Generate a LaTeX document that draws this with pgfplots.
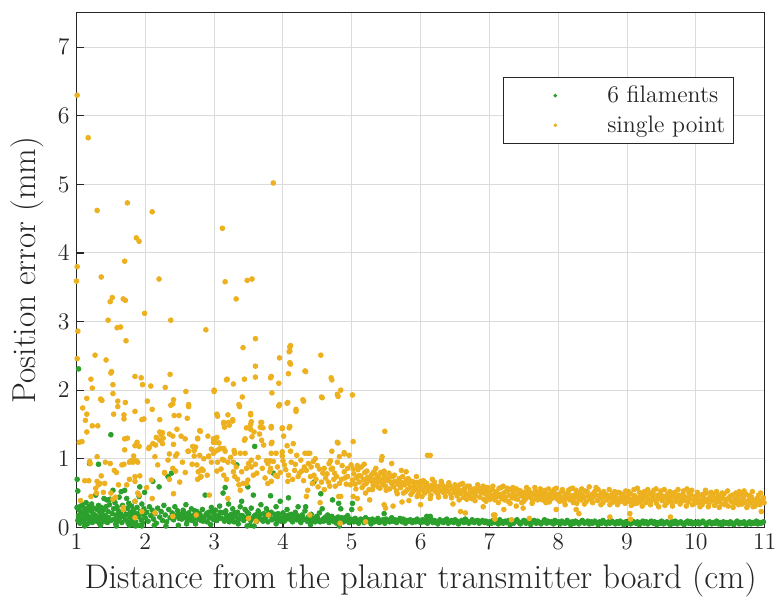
\documentclass[border=0pt]{standalone}
\usepackage{pgfplots}
\pgfplotsset{compat=1.18}
\definecolor{filgreen}{RGB}{44,160,44}
\definecolor{ptorange}{RGB}{237,177,32}
\definecolor{axgray}{RGB}{38,38,38}
\begin{document}
\begin{tikzpicture}
\begin{axis}[
  scale only axis, width=346.5pt, height=259pt,
  xmin=1, xmax=11, ymin=0, ymax=7.5,
  xtick={1,2,...,11}, ytick={0,1,...,7},
  tick align=inside, tick pos=left,
  major tick length=4pt,
  grid=major, grid style={draw=black!14, line width=0.5pt},
  axis line style={draw=axgray, line width=0.6pt},
  tick style={draw=axgray, line width=0.6pt},
  ticklabel style={font=\fontsize{13}{15}\selectfont, text=axgray},
  xlabel style={font=\fontsize{17.2}{19}\selectfont, text=axgray},
  ylabel style={font=\fontsize{16.7}{19}\selectfont, text=axgray},
  xlabel={Distance from the planar transmitter board (cm)},
  ylabel={Position error (mm)},
  legend style={at={(0.955,0.8745)}, anchor=north east, draw=axgray,
    font=\fontsize{12}{14}\selectfont, text=axgray, cells={anchor=west},
    inner sep=2pt, row sep=1pt},
  legend image code/.code={\path[draw=none] (0cm,0cm) -- (1.7cm,0cm);
    \fill[#1, draw=none] (0.85cm,0cm) circle (1.0pt);},
]
% 6 filaments
\addplot[only marks, mark=*, mark size=1.2pt, color=filgreen] coordinates {
(1.01,0.29)(1.02,0.10)(1.03,0.17)(1.04,0.25)(1.05,0.06)(1.06,0.31)(1.07,0.13)(1.08,0.21)(1.09,0.33)(1.10,0.08)
(1.11,0.19)(1.12,0.27)(1.13,0.12)(1.14,0.36)(1.15,0.23)(1.16,0.05)(1.17,0.16)(1.18,0.30)(1.19,0.10)(1.20,0.24)
(1.21,0.14)(1.22,0.34)(1.23,0.07)(1.24,0.20)(1.25,0.28)(1.26,0.11)(1.27,0.18)(1.28,0.47)(1.29,0.09)(1.30,0.26)
(1.31,0.15)(1.32,0.32)(1.33,0.06)(1.34,0.22)(1.35,0.13)(1.36,0.29)(1.37,0.19)(1.38,0.08)(1.39,0.25)(1.40,0.42)
(1.41,0.12)(1.42,0.17)(1.43,0.30)(1.44,0.40)(1.45,0.07)(1.46,0.23)(1.47,0.14)(1.48,0.33)(1.49,0.41)(1.50,0.10)
(1.03,2.31)(1.50,1.35)(1.01,0.70)(1.02,0.53)(1.19,0.93)(1.32,0.92)(1.01,0.29)(1.12,0.02)(1.35,0.03)(1.58,0.02)
(1.77,0.03)(1.95,0.02)(2.13,0.03)(2.30,0.02)(1.86,0.02)(2.48,0.03)
(1.52,0.20)(1.53,0.54)(1.54,0.27)(1.55,0.12)(1.56,0.36)(1.57,0.05)(1.58,0.18)(1.59,0.30)(1.60,0.09)(1.61,0.24)
(1.62,0.44)(1.63,0.14)(1.64,0.21)(1.65,0.52)(1.66,0.07)(1.67,0.32)(1.68,0.16)(1.69,0.26)(1.70,0.54)(1.71,0.11)
(1.72,0.19)(1.73,0.42)(1.74,0.28)(1.75,0.06)(1.76,0.35)(1.77,0.15)(1.78,0.22)(1.79,0.10)(1.80,0.31)(1.81,0.04)
(1.82,0.18)(1.83,0.25)(1.84,0.13)(1.85,0.38)(1.86,0.08)(1.87,0.20)(1.88,0.29)(1.89,0.03)(1.90,0.16)(1.91,0.45)
(1.92,0.59)(1.93,0.23)(1.94,0.11)(1.95,0.34)(1.96,0.07)(1.97,0.19)(1.98,0.27)(1.99,0.51)(2.00,0.14)(2.02,0.22)
(2.04,0.09)(2.06,0.30)(2.08,0.17)(2.10,0.25)(2.11,0.67)(2.12,0.12)(2.14,0.20)(2.16,0.06)(2.18,0.28)(2.20,0.59)
(2.21,0.15)(2.23,0.23)(2.25,0.10)(2.27,0.32)(2.29,0.18)(2.31,0.08)(2.33,0.74)(2.34,0.26)(2.36,0.14)(2.38,0.79)
(2.39,0.21)(2.41,0.11)(2.43,0.30)(2.45,0.17)(2.47,0.24)(2.49,0.13)
(2.51,0.19)(2.53,0.12)(2.55,0.25)(2.57,0.16)(2.59,0.33)(2.61,0.09)(2.63,0.21)(2.65,0.14)(2.67,0.27)(2.69,0.11)
(2.71,0.18)(2.73,0.05)(2.75,0.23)(2.77,0.15)(2.79,0.20)(2.81,0.10)(2.83,0.26)(2.85,0.13)(2.87,0.47)(2.88,0.18)
(2.90,0.08)(2.92,0.22)(2.94,0.15)(2.96,0.29)(2.98,0.12)(3.00,0.19)(3.02,0.25)(3.04,0.10)(3.06,0.17)(3.08,0.31)
(3.10,0.13)(3.12,0.21)(3.13,0.50)(3.15,0.09)(3.16,0.58)(3.17,0.24)(3.19,0.15)(3.21,0.34)(3.23,0.11)(3.25,0.19)
(3.27,0.27)(3.29,0.08)(3.31,0.16)(3.33,0.91)(3.34,0.22)(3.36,0.12)(3.38,0.30)(3.40,0.38)(3.41,0.17)(3.43,0.10)
(3.45,0.26)(3.47,0.14)(3.49,0.59)(3.50,0.20)(3.52,0.03)(3.54,0.28)(3.56,0.13)(3.57,0.47)(3.59,1.18)(3.60,0.18)
(3.62,0.09)(3.64,0.24)(3.66,0.15)(3.68,0.33)(3.70,0.11)(3.72,0.20)(3.74,0.14)(3.76,0.27)(3.78,0.08)(3.80,0.17)
(3.82,0.46)(3.83,0.22)(3.85,0.12)(3.86,0.79)(3.88,0.19)(3.90,0.30)(3.92,0.10)(3.94,0.16)(3.96,0.38)(3.98,0.13)
(4.00,0.21)(4.02,0.09)(4.04,0.17)(4.06,0.26)(4.08,0.43)(4.10,0.12)(4.12,0.19)(4.14,0.08)(4.16,0.15)(4.18,0.22)
(4.20,0.11)(4.22,0.30)(4.24,0.14)(4.26,0.07)(4.28,0.18)(4.30,0.12)(4.32,0.24)(4.33,0.30)(4.35,0.09)(4.37,0.15)
(4.39,0.11)(4.41,0.19)(4.43,0.64)(4.45,0.13)(4.47,0.08)(4.49,0.16)(4.51,0.11)(4.53,0.21)(4.55,0.49)(4.57,0.27)
(4.59,0.09)(4.61,0.14)(4.63,0.10)(4.65,0.18)(4.67,0.07)(4.69,0.12)(4.71,0.16)(4.72,0.40)(4.74,0.09)(4.76,0.13)
(4.78,0.06)(4.80,0.15)(4.81,0.35)(4.83,0.10)(4.84,0.27)(4.86,0.12)(4.88,0.08)(4.90,0.14)(4.92,0.10)(4.94,0.17)
(4.96,0.07)(4.98,0.12)(5.00,0.26)(5.01,0.35)(2.60,0.05)(2.95,0.04)(3.35,0.05)(3.48,0.02)(3.58,0.02)(3.90,0.05)
(4.40,0.04)(4.82,0.02)(4.45,0.66)
(2.52,0.15)(2.56,0.21)(2.60,0.13)(2.64,0.18)(2.68,0.10)(2.72,0.24)(2.76,0.12)(2.80,0.17)(2.84,0.09)(2.89,0.20)
(2.93,0.14)(2.97,0.23)(3.01,0.11)(3.05,0.16)(3.09,0.22)(3.14,0.12)(3.18,0.18)(3.22,0.08)(3.26,0.14)(3.30,0.21)
(3.35,0.11)(3.39,0.17)(3.44,0.13)(3.48,0.22)(3.53,0.10)(3.58,0.16)(3.63,0.12)(3.67,0.19)(3.71,0.09)(3.75,0.15)
(3.79,0.21)(3.84,0.11)(3.89,0.14)(3.93,0.20)(3.97,0.09)(4.01,0.15)(4.05,0.12)(4.09,0.18)(4.13,0.10)(4.17,0.13)
(4.21,0.17)(4.25,0.09)(4.29,0.14)(4.34,0.11)(4.38,0.16)(4.42,0.09)(4.46,0.12)(4.50,0.14)(4.54,0.08)(4.58,0.12)
(4.62,0.15)(4.66,0.10)(4.70,0.13)(4.75,0.08)(4.79,0.11)(4.85,0.14)(4.89,0.10)(4.93,0.12)(4.97,0.09)
(5.00,0.11)(5.03,0.08)(5.05,0.13)(5.08,0.09)(5.10,0.06)(5.13,0.12)(5.15,0.10)(5.18,0.07)(5.20,0.14)(5.23,0.09)
(5.25,0.11)(5.28,0.05)(5.30,0.12)(5.33,0.08)(5.35,0.10)(5.38,0.13)(5.40,0.07)(5.43,0.09)(5.45,0.11)(5.47,0.20)
(5.48,0.06)(5.50,0.12)(5.53,0.10)(5.55,0.08)(5.58,0.14)(5.60,0.09)(5.63,0.11)(5.65,0.07)(5.68,0.10)(5.70,0.13)
(5.73,0.08)(5.75,0.12)(5.78,0.06)(5.80,0.10)(5.83,0.09)(5.85,0.11)(5.88,0.07)(5.90,0.10)(5.93,0.08)(5.95,0.12)
(5.98,0.09)(6.00,0.07)(6.03,0.11)(6.05,0.08)(6.09,0.16)(6.14,0.16)(6.08,0.10)(6.10,0.06)(6.13,0.09)(6.15,0.12)
(6.18,0.07)(6.20,0.10)(6.23,0.08)(6.25,0.05)(6.28,0.11)(6.30,0.09)(6.33,0.07)(6.35,0.10)(6.38,0.12)(6.40,0.06)
(6.43,0.08)(6.45,0.10)(6.48,0.07)(6.50,0.11)(6.53,0.09)(6.55,0.05)(6.58,0.08)(6.60,0.10)(6.63,0.07)(6.65,0.12)
(6.68,0.09)(6.70,0.06)(6.73,0.08)(6.75,0.11)(6.78,0.07)(6.80,0.09)(6.83,0.10)(6.85,0.06)(6.88,0.08)(6.90,0.10)
(6.93,0.07)(6.95,0.09)(6.98,0.06)
(7.00,0.08)(7.03,0.06)(7.05,0.10)(7.08,0.07)(7.10,0.09)(7.13,0.05)(7.15,0.11)(7.18,0.08)(7.20,0.06)(7.23,0.09)
(7.25,0.07)(7.28,0.10)(7.30,0.04)(7.33,0.08)(7.35,0.06)(7.38,0.09)(7.40,0.11)(7.43,0.07)(7.45,0.05)(7.48,0.08)
(7.50,0.10)(7.53,0.06)(7.55,0.09)(7.58,0.07)(7.60,0.04)(7.63,0.08)(7.65,0.10)(7.68,0.06)(7.70,0.09)(7.73,0.07)
(7.75,0.05)(7.78,0.08)(7.80,0.11)(7.83,0.06)(7.85,0.09)(7.88,0.07)(7.90,0.08)(7.93,0.05)(7.95,0.10)(7.98,0.07)
(8.00,0.08)(8.03,0.05)(8.05,0.09)(8.08,0.07)(8.10,0.06)(8.13,0.10)(8.15,0.07)(8.18,0.04)(8.20,0.08)(8.23,0.06)
(8.25,0.09)(8.28,0.07)(8.30,0.05)(8.33,0.08)(8.35,0.10)(8.38,0.06)(8.40,0.07)(8.43,0.09)(8.45,0.05)(8.48,0.08)
(8.50,0.06)(8.53,0.09)(8.55,0.07)(8.58,0.04)(8.60,0.08)(8.63,0.06)(8.65,0.10)(8.68,0.07)(8.70,0.05)(8.73,0.08)
(8.75,0.06)(8.78,0.09)(8.80,0.07)(8.83,0.05)(8.85,0.08)(8.88,0.06)(8.90,0.09)(8.93,0.07)(8.95,0.04)(8.98,0.08)
(9.00,0.06)(9.03,0.08)(9.05,0.05)(9.08,0.09)(9.10,0.07)(9.13,0.06)(9.15,0.08)(9.18,0.04)(9.20,0.07)(9.23,0.09)
(9.25,0.06)(9.28,0.08)(9.30,0.05)(9.33,0.07)(9.35,0.09)(9.38,0.06)(9.40,0.08)(9.43,0.04)(9.45,0.07)(9.48,0.06)
(9.50,0.09)(9.53,0.05)(9.55,0.07)(9.58,0.08)(9.60,0.06)(9.63,0.04)(9.65,0.08)(9.68,0.06)(9.70,0.09)(9.73,0.05)
(9.75,0.07)(9.78,0.08)(9.80,0.06)(9.83,0.04)(9.85,0.07)(9.88,0.09)(9.90,0.06)(9.93,0.08)(9.95,0.05)(9.98,0.07)
(10.00,0.06)(10.03,0.08)(10.05,0.05)(10.08,0.07)(10.10,0.09)(10.13,0.06)(10.15,0.04)(10.18,0.07)(10.20,0.08)(10.23,0.05)
(10.25,0.07)(10.28,0.06)(10.30,0.09)(10.33,0.05)(10.35,0.07)(10.38,0.04)(10.40,0.08)(10.43,0.06)(10.45,0.07)(10.48,0.05)
(10.50,0.08)(10.53,0.06)(10.55,0.04)(10.58,0.07)(10.60,0.09)(10.63,0.05)(10.65,0.07)(10.68,0.06)(10.70,0.08)(10.73,0.04)
(10.75,0.06)(10.78,0.08)(10.80,0.05)(10.83,0.07)(10.85,0.06)(10.88,0.09)(10.90,0.05)(10.93,0.07)(10.95,0.06)(10.98,0.08)
};
\addlegendentry{6 filaments}
% single point
\addplot[only marks, mark=*, mark size=1.2pt, color=ptorange] coordinates {
(1.01,6.30)(1.17,5.68)(3.86,5.02)(1.30,4.62)(1.74,4.73)(2.10,4.60)(3.12,4.36)(1.87,4.22)(1.91,4.17)(1.70,3.88)
(1.01,3.80)(1.00,3.59)(1.36,3.65)(2.20,3.62)(3.16,3.58)(3.48,3.60)(3.55,3.62)(3.32,3.33)(1.52,3.35)(1.49,3.29)
(1.68,3.33)(1.71,3.31)(1.99,3.12)(1.46,3.02)(2.37,3.02)(1.02,2.86)(2.88,2.88)(1.59,2.91)(1.64,2.92)(1.72,2.72)
(3.60,2.75)(3.42,2.62)(1.01,2.46)(1.27,2.51)(1.43,2.44)(1.21,2.16)(1.23,2.03)(1.15,1.88)(1.09,1.74)(1.15,1.65)
(1.13,1.56)(1.04,1.24)(1.08,1.25)(1.15,1.39)(1.19,0.96)(1.23,1.48)(1.31,1.48)(1.35,1.87)(1.37,1.85)(1.50,2.25)
(1.51,2.27)(1.53,2.08)(1.53,1.95)(1.54,1.65)(1.60,1.84)(1.60,1.76)(1.69,1.64)(1.69,1.58)(1.71,1.82)(1.70,1.29)
(1.74,1.30)(1.70,1.13)(1.85,2.20)(1.94,2.18)(1.96,2.08)(1.85,1.69)(1.95,1.57)(1.98,1.58)(1.88,1.24)(1.85,1.19)
(1.83,1.04)(1.79,0.97)(1.83,0.97)(1.87,0.97)(1.91,1.18)(2.03,1.84)(2.08,2.06)(2.10,1.72)(2.16,1.31)(2.15,1.20)
(2.06,1.17)(2.21,1.39)(2.25,1.38)(2.26,1.30)(2.21,1.57)(2.29,2.04)(2.36,2.23)(2.37,1.78)(2.40,1.80)(2.41,1.86)
(2.42,1.63)(2.49,1.63)(2.46,1.43)(2.35,1.36)(2.40,1.33)(2.41,1.21)(2.44,1.04)(2.35,1.07)(2.28,0.80)(2.52,1.33)
(2.58,1.29)(2.61,1.59)(2.63,1.79)(2.59,1.98)(2.71,1.12)(2.73,1.17)(2.76,1.29)(2.79,1.41)(2.82,0.85)(2.80,0.73)
(2.92,1.04)(2.99,1.29)(3.00,2.00)(3.02,1.24)(3.04,1.65)(3.06,1.13)(3.09,1.15)(3.12,0.99)(3.14,1.53)(3.19,2.16)
(3.21,1.53)(3.28,2.09)(3.27,1.57)(3.29,1.12)(3.36,1.79)(3.44,2.16)(3.45,1.29)(3.47,1.45)(3.53,1.66)(3.54,1.54)
(3.60,2.35)(3.60,2.19)(3.55,1.32)(3.58,1.39)(3.69,1.53)(3.71,1.45)(3.72,1.20)(3.81,0.97)(3.83,2.20)(3.84,1.96)
(3.83,1.47)(3.84,1.24)(3.94,2.10)(3.95,2.47)(3.99,1.45)(3.95,1.79)(4.01,1.33)(4.07,1.82)(4.08,2.24)(4.10,2.57)
(4.11,2.65)(4.10,2.40)(4.10,1.47)(4.06,1.19)(4.19,1.72)(4.29,1.86)(4.32,2.28)(4.36,1.08)(4.55,2.51)(4.56,1.90)
(4.70,2.18)(4.79,1.94)(4.84,2.00)(4.79,1.24)(4.89,1.09)(5.01,1.93)(5.02,1.25)
(1.20,0.93)(1.30,1.03)(1.42,0.95)(1.49,0.93)(1.55,0.83)(1.58,0.80)(1.66,0.91)(1.69,0.92)(1.77,0.95)(1.82,0.95)
(1.89,0.95)(1.36,0.75)(1.18,0.68)(1.30,0.67)(1.34,0.64)(1.41,0.64)(1.32,0.62)(1.29,0.50)(1.28,0.57)(1.06,0.39)
(1.39,0.51)(1.50,0.50)(1.53,0.41)(1.57,0.44)(1.68,0.29)(1.68,0.26)(1.77,0.70)(1.85,0.74)(1.92,0.75)(1.85,0.67)
(1.73,0.62)(1.89,0.50)(1.91,0.47)(1.85,0.38)(1.95,0.23)(1.85,0.14)(2.10,0.42)(2.09,0.69)(2.14,0.21)(2.40,0.16)
(2.28,0.79)(2.35,0.70)(2.41,0.49)(2.40,0.86)(2.44,0.82)(2.33,0.98)(2.18,0.91)(2.14,1.03)(2.05,1.15)(2.11,1.22)
(2.25,1.22)(2.23,1.35)(2.21,1.27)(2.46,1.07)(2.54,0.95)(2.62,1.11)(1.12,0.68)(1.21,0.45)(1.61,0.62)(2.02,0.58)
(4.10,2.63)(4.09,2.56)(4.11,2.38)(3.18,2.15)(3.82,2.18)(4.30,1.84)(3.00,1.98)(3.41,1.90)(3.37,1.76)(4.06,1.81)
(3.94,1.77)(4.19,1.69)(3.05,1.62)(3.20,1.64)(3.53,1.64)(3.14,1.51)(3.15,1.46)(3.22,1.49)(3.27,1.55)(3.53,1.50)
(3.53,1.43)(3.68,1.53)(3.67,1.46)(3.83,1.45)(3.99,1.44)(4.09,1.45)(2.80,1.40)(2.76,1.30)(2.91,1.33)(3.04,1.31)
(2.99,1.24)(3.07,1.23)(3.14,1.15)(3.16,1.11)(3.02,1.11)(2.96,1.14)(2.99,1.08)(2.69,1.18)(2.63,1.11)(2.79,1.05)
(2.71,1.04)(2.92,1.03)(2.96,0.95)(2.75,0.91)(2.81,0.84)(2.77,0.81)(2.84,0.83)(2.76,0.70)(2.81,0.74)(3.04,0.82)
(3.14,0.76)(3.20,0.95)(3.28,0.95)(3.30,1.08)(3.38,1.08)(3.45,1.08)(3.44,1.27)(3.66,1.36)(3.69,1.27)(3.83,1.22)
(3.83,1.08)(3.90,1.08)(3.99,1.10)(3.99,1.04)(4.11,1.11)(4.15,1.22)(4.20,1.05)(4.32,1.08)(3.50,0.93)(3.54,0.88)
(3.47,0.86)(3.57,0.76)(3.62,0.79)(3.54,0.98)(3.76,0.97)(3.78,0.93)(3.82,0.86)(3.81,0.81)(3.89,0.76)(3.78,0.64)
(3.83,0.67)(3.92,0.74)(4.02,0.91)(4.07,0.67)(4.17,0.83)(4.24,0.79)(4.27,0.82)(4.31,0.88)(3.28,0.81)(3.30,0.74)
(3.34,0.70)(3.40,0.81)(3.42,0.64)(3.47,0.64)(3.38,0.54)(3.49,0.69)(3.14,0.98)(2.74,0.18)(2.93,0.47)(3.20,0.42)
(3.50,0.13)(3.61,0.09)(3.79,0.18)(2.63,1.76)
(3.60,0.92)(3.64,1.02)(3.70,0.86)(3.74,0.72)(3.86,0.96)(3.92,0.88)(3.96,0.80)(4.00,0.97)(4.04,0.84)(4.08,0.76)
(4.12,0.95)(4.14,0.70)(4.18,0.92)(4.22,0.74)(4.26,0.98)(4.30,0.68)(4.37,0.93)(4.40,0.74)(4.44,0.96)(4.48,0.70)
(4.50,0.90)(4.56,0.66)(4.60,0.86)(4.64,0.78)(4.68,0.60)(4.70,0.85)(4.74,0.70)(4.78,0.74)(4.82,0.64)(4.86,0.90)
(4.90,0.72)(4.94,0.86)(4.98,0.62)(3.05,0.95)(3.10,0.85)(3.18,0.70)(3.24,1.02)(3.32,0.88)(3.36,0.62)(2.85,1.00)
(2.90,0.76)(2.68,0.92)(2.58,0.80)(2.50,0.66)
(4.33,2.27)(4.71,2.15)(4.57,1.89)(4.80,1.91)(5.48,1.40)(4.80,1.23)(4.71,1.11)(4.89,1.07)(4.96,1.05)(4.39,1.08)
(4.47,1.00)(5.44,1.03)(5.43,0.98)(5.18,0.92)(5.08,0.90)(4.99,0.91)(4.82,1.03)(4.79,0.95)(4.69,0.97)(4.53,0.85)
(4.41,0.88)(4.34,0.83)(4.58,0.79)(4.75,0.79)(4.89,0.81)(4.94,0.74)(5.23,0.71)(5.30,0.67)(5.37,0.71)(5.44,0.67)
(5.52,0.69)(5.32,0.81)(5.47,0.82)(5.58,0.93)(5.72,0.83)(5.79,0.81)(6.00,0.67)(4.43,0.64)(4.51,0.59)(4.36,0.54)
(4.34,0.45)(4.54,0.36)(4.81,0.45)(4.84,0.45)(5.02,0.45)(5.08,0.42)(5.12,0.27)(5.20,0.50)(5.26,0.40)(5.47,0.33)
(5.49,0.28)(5.60,0.31)(5.73,0.37)(5.83,0.39)(5.95,0.45)(6.00,0.33)(4.39,0.18)(4.83,0.06)(5.20,0.08)(4.67,0.93)
(4.72,0.86)(4.62,0.72)(4.66,0.66)(4.85,0.70)(4.92,0.63)(4.45,0.76)(4.60,0.55)(4.76,0.60)
(5.01,0.69)(5.03,0.78)(5.05,0.63)(5.07,0.72)(5.09,0.84)(5.11,0.66)(5.13,0.75)(5.15,0.58)(5.17,0.70)(5.19,0.80)
(5.21,0.64)(5.23,0.73)(5.25,0.55)(5.27,0.68)(5.29,0.77)(5.31,0.61)(5.33,0.70)(5.35,0.86)(5.37,0.65)(5.39,0.74)
(5.41,0.57)(5.43,0.69)(5.45,0.63)(5.47,0.76)(5.49,0.60)(5.51,0.68)(5.53,0.72)(5.55,0.56)(5.57,0.66)(5.59,0.74)
(5.61,0.59)(5.63,0.67)(5.65,0.53)(5.67,0.63)(5.69,0.71)(5.71,0.58)(5.73,0.65)(5.75,0.50)(5.77,0.62)(5.79,0.69)
(5.81,0.55)(5.83,0.64)(5.85,0.58)(5.87,0.67)(5.89,0.52)(5.91,0.61)(5.93,0.56)(5.95,0.65)(5.97,0.49)(5.99,0.60)
(5.02,0.85)(5.06,0.56)(5.10,0.75)(5.14,0.88)(5.18,0.62)(5.22,0.82)(5.26,0.72)(5.30,0.55)(5.34,0.78)(5.38,0.59)
(5.42,0.80)(5.46,0.70)(5.50,0.54)(5.54,0.79)(5.58,0.64)(5.62,0.76)(5.66,0.49)(5.70,0.66)(5.74,0.74)(5.78,0.52)
(5.82,0.71)(5.86,0.48)(5.90,0.66)(5.94,0.74)(5.98,0.53)
(6.01,0.62)(6.03,0.55)(6.04,0.68)(6.06,0.50)(6.08,0.59)(6.09,0.64)(6.11,0.53)(6.13,0.57)(6.15,0.47)(6.16,0.61)
(6.18,0.55)(6.20,0.66)(6.22,0.52)(6.23,0.58)(6.25,0.49)(6.27,0.60)(6.29,0.54)(6.31,0.63)(6.33,0.51)(6.35,0.57)
(6.36,0.45)(6.38,0.59)(6.40,0.53)(6.42,0.61)(6.44,0.48)(6.46,0.56)(6.47,0.34)(6.49,0.51)(6.51,0.58)(6.53,0.46)
(6.55,0.55)(6.57,0.62)(6.58,0.50)(6.60,0.53)(6.62,0.44)(6.64,0.57)(6.66,0.49)(6.68,0.60)(6.70,0.47)(6.72,0.54)
(6.74,0.42)(6.76,0.51)(6.78,0.56)(6.80,0.46)(6.82,0.53)(6.84,0.58)(6.86,0.44)(6.88,0.50)(6.90,0.55)(6.92,0.41)
(6.94,0.49)(6.96,0.53)(6.98,0.45)(6.10,1.05)(6.14,1.05)(6.58,0.23)(6.65,0.21)(6.91,0.30)
(6.02,0.45)(6.06,0.66)(6.10,0.58)(6.14,0.42)(6.17,0.70)(6.21,0.60)(6.26,0.44)(6.30,0.67)(6.34,0.59)(6.37,0.52)
(6.41,0.65)(6.45,0.43)(6.50,0.62)(6.54,0.52)(6.56,0.40)(6.61,0.64)(6.63,0.54)(6.67,0.41)(6.71,0.60)(6.75,0.50)
(6.79,0.39)(6.83,0.62)(6.87,0.52)(6.91,0.60)(6.95,0.38)(6.97,0.58)
(7.00,0.51)(7.02,0.44)(7.04,0.55)(7.06,0.47)(7.08,0.40)(7.10,0.52)(7.12,0.45)(7.14,0.57)(7.16,0.48)(7.18,0.42)
(7.20,0.60)(7.21,0.50)(7.23,0.44)(7.25,0.53)(7.27,0.38)(7.29,0.47)(7.31,0.55)(7.33,0.43)(7.35,0.50)(7.37,0.46)
(7.39,0.56)(7.41,0.41)(7.43,0.49)(7.45,0.53)(7.47,0.36)(7.49,0.45)(7.51,0.51)(7.53,0.42)(7.55,0.48)(7.57,0.55)
(7.59,0.44)(7.61,0.50)(7.63,0.39)(7.65,0.47)(7.67,0.53)(7.69,0.43)(7.71,0.49)(7.73,0.45)(7.75,0.52)(7.77,0.40)
(7.79,0.47)(7.81,0.54)(7.83,0.42)(7.85,0.48)(7.87,0.37)(7.89,0.46)(7.91,0.51)(7.93,0.43)(7.95,0.49)(7.97,0.57)
(7.99,0.41)(7.08,0.18)(7.08,0.12)(7.06,0.18)(7.32,0.11)(7.21,0.26)(7.39,0.31)(7.49,0.28)(7.58,0.13)
(7.01,0.41)(7.05,0.60)(7.09,0.49)(7.13,0.36)(7.17,0.58)(7.22,0.40)(7.26,0.57)(7.30,0.35)(7.34,0.58)(7.38,0.42)
(7.42,0.54)(7.46,0.46)(7.50,0.38)(7.54,0.58)(7.58,0.50)(7.62,0.35)(7.66,0.58)(7.70,0.40)(7.74,0.56)(7.78,0.48)
(7.82,0.36)(7.86,0.56)(7.90,0.42)(7.94,0.55)(7.98,0.48)
(8.01,0.48)(8.03,0.41)(8.05,0.52)(8.07,0.44)(8.09,0.37)(8.11,0.49)(8.13,0.43)(8.15,0.54)(8.17,0.40)(8.19,0.46)
(8.21,0.57)(8.23,0.42)(8.25,0.48)(8.27,0.35)(8.29,0.45)(8.31,0.51)(8.33,0.40)(8.35,0.47)(8.37,0.43)(8.39,0.53)
(8.41,0.38)(8.43,0.46)(8.45,0.59)(8.47,0.41)(8.49,0.48)(8.51,0.44)(8.53,0.52)(8.55,0.58)(8.57,0.39)(8.59,0.46)
(8.61,0.42)(8.63,0.50)(8.65,0.36)(8.67,0.44)(8.69,0.48)(8.71,0.40)(8.73,0.46)(8.75,0.33)(8.77,0.43)(8.79,0.49)
(8.81,0.38)(8.83,0.45)(8.85,0.41)(8.87,0.51)(8.89,0.37)(8.91,0.44)(8.93,0.40)(8.95,0.47)(8.97,0.35)(8.99,0.42)
(7.97,0.26)(8.26,0.26)(8.75,0.15)(8.30,0.20)
(8.02,0.38)(8.06,0.55)(8.10,0.33)(8.14,0.50)(8.18,0.56)(8.22,0.36)(8.26,0.54)(8.30,0.41)(8.34,0.56)(8.38,0.34)
(8.42,0.52)(8.46,0.44)(8.50,0.36)(8.54,0.47)(8.58,0.55)(8.62,0.33)(8.66,0.52)(8.70,0.45)(8.74,0.55)(8.78,0.36)
(8.82,0.52)(8.86,0.33)(8.90,0.50)(8.94,0.39)(8.98,0.53)
(9.01,0.45)(9.03,0.38)(9.05,0.49)(9.07,0.41)(9.09,0.34)(9.11,0.46)(9.13,0.40)(9.15,0.57)(9.17,0.43)(9.19,0.37)
(9.21,0.48)(9.23,0.42)(9.25,0.52)(9.27,0.36)(9.29,0.44)(9.31,0.40)(9.33,0.50)(9.35,0.38)(9.37,0.45)(9.39,0.54)
(9.41,0.41)(9.43,0.35)(9.45,0.47)(9.47,0.42)(9.49,0.53)(9.51,0.39)(9.53,0.45)(9.55,0.32)(9.57,0.43)(9.59,0.49)
(9.61,0.40)(9.63,0.46)(9.65,0.36)(9.67,0.44)(9.69,0.51)(9.71,0.38)(9.73,0.43)(9.75,0.47)(9.77,0.34)(9.79,0.41)
(9.81,0.48)(9.83,0.39)(9.85,0.44)(9.87,0.56)(9.89,0.37)(9.91,0.42)(9.93,0.47)(9.95,0.33)(9.97,0.40)(9.99,0.45)
(9.04,0.20)(9.05,0.12)(9.63,0.15)
(9.02,0.52)(9.06,0.32)(9.10,0.55)(9.14,0.35)(9.18,0.51)(9.22,0.31)(9.26,0.47)(9.30,0.55)(9.34,0.33)(9.38,0.48)
(9.42,0.56)(9.46,0.30)(9.50,0.46)(9.54,0.55)(9.58,0.36)(9.62,0.52)(9.66,0.31)(9.70,0.45)(9.74,0.55)(9.78,0.37)
(9.82,0.53)(9.86,0.31)(9.90,0.50)(9.94,0.54)(9.98,0.35)
(10.01,0.42)(10.03,0.36)(10.05,0.47)(10.07,0.39)(10.09,0.33)(10.11,0.44)(10.13,0.38)(10.15,0.50)(10.17,0.41)(10.19,0.35)
(10.21,0.45)(10.23,0.39)(10.25,0.48)(10.27,0.32)(10.29,0.42)(10.31,0.37)(10.33,0.46)(10.35,0.40)(10.37,0.34)(10.39,0.43)
(10.41,0.49)(10.43,0.37)(10.45,0.41)(10.47,0.31)(10.49,0.44)(10.51,0.38)(10.53,0.47)(10.55,0.35)(10.57,0.41)(10.59,0.36)
(10.61,0.45)(10.63,0.52)(10.65,0.39)(10.67,0.34)(10.69,0.43)(10.71,0.37)(10.73,0.48)(10.75,0.32)(10.77,0.40)(10.79,0.36)
(10.81,0.44)(10.83,0.30)(10.85,0.39)(10.87,0.35)(10.89,0.42)(10.91,0.47)(10.93,0.33)(10.95,0.38)(10.97,0.41)(10.99,0.36)
(10.95,0.23)
(10.02,0.51)(10.06,0.30)(10.10,0.48)(10.14,0.54)(10.18,0.30)(10.22,0.51)(10.26,0.40)(10.30,0.52)(10.34,0.29)(10.38,0.50)
(10.42,0.33)(10.46,0.53)(10.50,0.45)(10.54,0.29)(10.58,0.50)(10.62,0.33)(10.66,0.48)(10.70,0.53)(10.74,0.29)(10.78,0.46)
(10.82,0.52)(10.86,0.31)(10.90,0.37)(10.94,0.50)(10.98,0.43)
};
\addlegendentry{single point}
\end{axis}
\path ([yshift=6.5pt]current axis.north);
\path ([xshift=-38.5pt]current axis.south west);
\path ([xshift=6.5pt]current axis.south east);
\end{tikzpicture}
\end{document}
